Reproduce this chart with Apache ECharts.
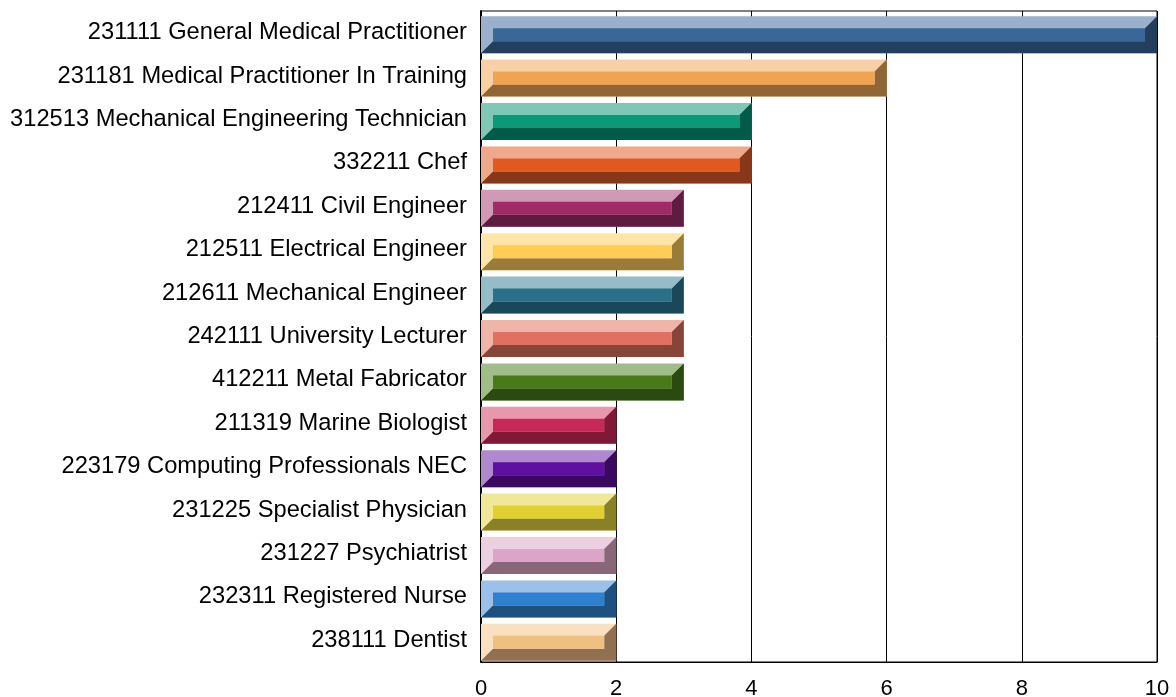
<!DOCTYPE html>
<html>
<head>
<meta charset="UTF-8">
<title>Occupations</title>
<script src="https://cdn.jsdelivr.net/npm/echarts@6/dist/echarts.min.js"></script>
<style>
  html, body { margin: 0; padding: 0; background: #fff; }
</style>
</head>
<body>
<div id="main" style="width:1176px;height:697px;"></div>
<script type="text/javascript">
var categories = [
  '231111 General Medical Practitioner',
  '231181 Medical Practitioner In Training',
  '312513 Mechanical Engineering Technician',
  '332211 Chef',
  '212411 Civil Engineer',
  '212511 Electrical Engineer',
  '212611 Mechanical Engineer',
  '242111 University Lecturer',
  '412211 Metal Fabricator',
  '211319 Marine Biologist',
  '223179 Computing Professionals NEC',
  '231225 Specialist Physician',
  '231227 Psychiatrist',
  '232311 Registered Nurse',
  '238111 Dentist'
];
var values = [10, 6, 4, 4, 3, 3, 3, 3, 3, 2, 2, 2, 2, 2, 2];
var xTicks = [0, 2, 4, 6, 8, 10];

// bevel colours per bar: [light, face, dark]
var palette = [
  ['#9bb0cb', '#3a6699', '#233f60'],
  ['#f7d0a8', '#f0a452', '#926535'],
  ['#80c8b6', '#0a9a78', '#005c48'],
  ['#f0a88c', '#e05a20', '#883818'],
  ['#d09ab6', '#a02c66', '#601c40'],
  ['#ffe6a8', '#ffcc55', '#9a7c38'],
  ['#96bcc8', '#2a7088', '#1a4858'],
  ['#f0b4a8', '#e07060', '#884438'],
  ['#a0bc88', '#4a7a18', '#2a4a10'],
  ['#e898ac', '#c82858', '#801838'],
  ['#b088d0', '#6010a0', '#3a0860'],
  ['#f0e898', '#e0d030', '#8a8028'],
  ['#ecd0e2', '#dca4c8', '#886878'],
  ['#9cc0e8', '#3080d0', '#1e5080'],
  ['#f8e0c0', '#f0c080', '#907050']
];

var seriesData = values.map(function (v, i) { return [v, i]; });

function renderBar(params, api) {
  var idx = api.value(1);
  var p0 = api.coord([0, idx]);
  var p1 = api.coord([api.value(0), idx]);
  var h = api.size([0, 1])[1] * 0.853;
  var x0 = p0[0], x1 = p1[0];
  var cy = p0[1] + 2;   // bars sit slightly low in their band
  var y0 = cy - h / 2, y1 = cy + h / 2;
  var b = 12;
  var c = palette[params.dataIndex % palette.length];
  return {
    type: 'group',
    children: [
      { type: 'rect', shape: { x: x0, y: y0, width: x1 - x0, height: y1 - y0 }, style: { fill: c[0] } },
      { type: 'polygon', shape: { points: [[x0, y1], [x0 + b, y1 - b], [x1 - b, y1 - b], [x1 - b, y0 + b], [x1, y0], [x1, y1]] }, style: { fill: c[2] } },
      { type: 'rect', shape: { x: x0 + b, y: y0 + b, width: x1 - x0 - 2 * b, height: y1 - y0 - 2 * b }, style: { fill: c[1] } }
    ]
  };
}

var option = {
  animation: false,
  grid: {
    left: 481, right: 19, top: 11, bottom: 35,
    outerBoundsMode: 'none',
    containLabel: false,
    show: true, borderColor: '#000', borderWidth: 1
  },
  xAxis: {
    type: 'value',
    min: xTicks[0],
    max: xTicks[xTicks.length - 1],
    interval: 2,
    axisLine: { show: true, lineStyle: { color: '#000', width: 1 } },
    axisTick: { show: false },
    splitLine: { show: true, lineStyle: { color: '#000', width: 1 } },
    axisLabel: { color: '#000', fontSize: 22, fontFamily: 'Liberation Sans, Arial, sans-serif', margin: 16 }
  },
  yAxis: {
    type: 'category',
    inverse: true,
    data: categories,
    axisLine: { show: true, lineStyle: { color: '#000', width: 2 } },
    axisTick: { show: false },
    axisLabel: { color: '#000', fontSize: 23.7, fontFamily: 'Liberation Sans, Arial, sans-serif', margin: 14 }
  },
  series: [{
    type: 'custom',
    renderItem: renderBar,
    encode: { x: 0, y: 1 },
    data: seriesData,
    z: 3
  }]
};

echarts.init(document.getElementById('main')).setOption(option);
</script>
</body>
</html>
